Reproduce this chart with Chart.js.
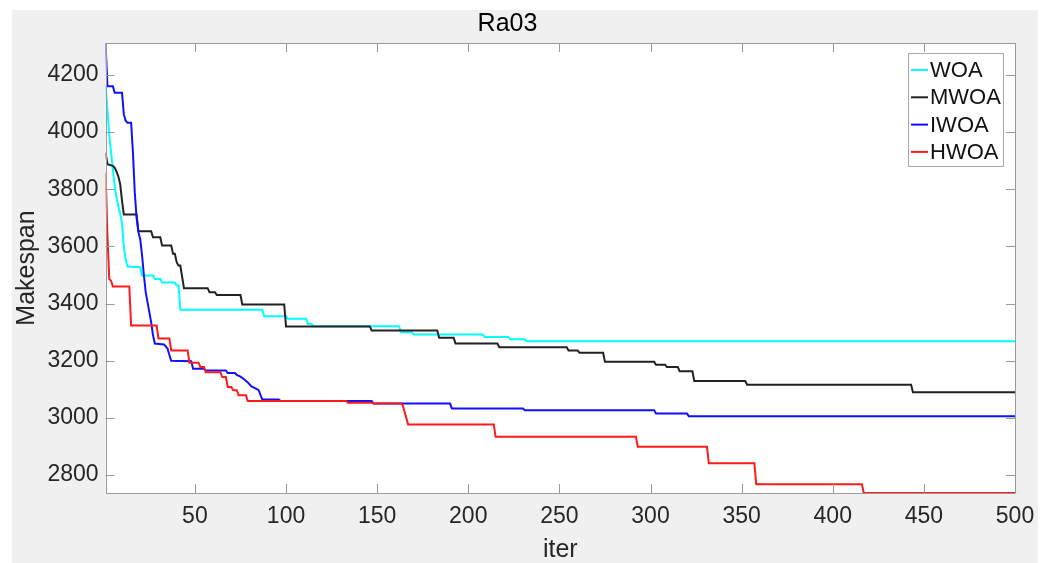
<!DOCTYPE html>
<html>
<head>
<meta charset="utf-8">
<script src="https://cdn.jsdelivr.net/npm/chart.js@4.4.1/dist/chart.umd.min.js"></script>
<style>
  html, body { margin: 0; padding: 0; background: #ffffff; }
  #wrap { width: 1053px; height: 563px; }
</style>
</head>
<body>
<div id="wrap"><canvas id="c" width="1053" height="563"></canvas></div>
<script>
// ---- data (iteration, makespan) ----
const seriesNames = ['WOA', 'MWOA', 'IWOA', 'HWOA'];

const woaIter = [1,2,3,4,5,6,7,8,9,10,11,12,13,20,21,27,28,31,32,39,40,41,42,87,88,100,101,111,112,114,115,162,163,169,170,208,209,222,223,231,232,500];
const woaVal  = [4165,4080,3990,3930,3870,3810,3770,3740,3715,3680,3600,3555,3530,3527,3498,3498,3486,3486,3474,3474,3463,3463,3378,3378,3356,3356,3347,3347,3329,3329,3321,3321,3300,3300,3292,3292,3283,3283,3275,3275,3268,3268];

const mwoaIter = [1,2,5,6,7,8,9,10,11,18,19,26,27,31,32,37,38,39,40,41,42,44,57,58,61,62,75,76,99,100,146,147,183,184,192,193,216,217,254,255,260,261,274,275,302,303,308,309,315,316,323,324,352,353,443,444,500];
const mwoaVal  = [3928,3888,3882,3875,3862,3845,3818,3760,3712,3712,3653,3653,3632,3632,3603,3603,3574,3574,3545,3533,3533,3454,3454,3440,3440,3430,3430,3397,3397,3320,3320,3306,3306,3280,3280,3260,3260,3247,3247,3236,3236,3228,3228,3196,3196,3186,3186,3178,3178,3163,3163,3129,3129,3116,3116,3090,3090];

const iwoaIter = [1,2,5,6,10,11,12,13,15,16,17,18,19,20,21,22,23,24,25,26,27,28,33,34,35,36,37,48,49,55,56,67,68,72,73,75,77,79,81,83,85,86,87,96,97,147,148,190,191,230,231,302,303,320,321,500];
const iwoaVal  = [4312,4161,4161,4138,4138,4062,4040,4033,4033,3930,3790,3700,3650,3625,3570,3500,3440,3405,3370,3335,3290,3260,3257,3250,3242,3220,3200,3198,3172,3172,3166,3166,3157,3157,3150,3144,3135,3124,3110,3104,3097,3080,3064,3064,3059,3059,3050,3050,3033,3033,3027,3027,3015,3015,3006,3006];

const hwoaIter = [1,2,3,4,5,14,15,29,30,36,37,46,47,52,53,55,56,64,65,67,68,70,71,73,74,78,79,133,134,147,148,163,164,166,167,214,215,292,293,331,332,357,358,416,417,500];
const hwoaVal  = [3859,3640,3486,3480,3460,3460,3323,3323,3278,3278,3236,3236,3193,3193,3178,3178,3160,3160,3143,3143,3108,3108,3097,3097,3079,3079,3059,3059,3053,3053,3050,3050,3045,3000,2977,2977,2934,2934,2899,2899,2841,2841,2768,2768,2737,2737];

const xTicks = [50,100,150,200,250,300,350,400,450,500];
const yTicks = [2800,3000,3200,3400,3600,3800,4000,4200];
const xRange = [1, 500];
const yRange = [2737, 4312];

const chartTitle = 'Ra03';
const xTitle = 'iter';
const yTitle = 'Makespan';

// ---- build ----
const FONT = '"Liberation Sans", Arial, Helvetica, sans-serif';
Chart.defaults.font.family = FONT;

function pts(xs, ys) { return xs.map((x, k) => ({ x: x, y: ys[k] })); }

const colors = ['#00ffff', '#222222', '#1010ff', '#ff1a1a'];
const allIter = [woaIter, mwoaIter, iwoaIter, hwoaIter];
const allVal = [woaVal, mwoaVal, iwoaVal, hwoaVal];

const datasets = seriesNames.map((name, k) => ({
  label: name,
  data: pts(allIter[k], allVal[k]),
  borderColor: colors[k],
  backgroundColor: colors[k],
  borderWidth: 2,
  pointRadius: 0,
  tension: 0,
  fill: false,
  order: 4 - k
}));

const AXIS_COLOR = '#9a9a9a';
const TICK_LEN = 9;

const decor = {
  id: 'decor',
  beforeDraw(chart) {
    const ctx = chart.ctx;
    const a = chart.chartArea;
    ctx.save();
    ctx.fillStyle = '#ffffff';
    ctx.fillRect(0, 0, chart.width, chart.height);
    ctx.fillStyle = '#f0f0f0';
    ctx.fillRect(12, 10, 1038 - 12, chart.height - 10);
    ctx.fillStyle = '#ffffff';
    ctx.fillRect(a.left, a.top, a.right - a.left, a.bottom - a.top);
    ctx.restore();
  },
  afterDraw(chart) {
    const ctx = chart.ctx;
    const a = chart.chartArea;
    const xs = chart.scales.x, ys = chart.scales.y;
    ctx.save();
    ctx.strokeStyle = AXIS_COLOR;
    ctx.lineWidth = 1;
    ctx.beginPath();
    ctx.rect(Math.round(a.left) + 0.5, Math.round(a.top) + 0.5,
             Math.round(a.right - a.left), Math.round(a.bottom - a.top));
    ctx.stroke();
    ctx.beginPath();
    xTicks.forEach(v => {
      const px = Math.round(xs.getPixelForValue(v)) + 0.5;
      ctx.moveTo(px, a.bottom); ctx.lineTo(px, a.bottom - TICK_LEN);
      ctx.moveTo(px, a.top); ctx.lineTo(px, a.top + TICK_LEN);
    });
    yTicks.forEach(v => {
      const py = Math.round(ys.getPixelForValue(v)) + 0.5;
      ctx.moveTo(a.left, py); ctx.lineTo(a.left + TICK_LEN, py);
      ctx.moveTo(a.right, py); ctx.lineTo(a.right - TICK_LEN, py);
    });
    ctx.stroke();

    // legend
    const lx = 908, ly = 53, lw = 95, lh = 113;
    ctx.fillStyle = '#ffffff';
    ctx.fillRect(lx, ly, lw, lh);
    ctx.strokeStyle = '#a8a8a8';
    ctx.strokeRect(lx + 0.5, ly + 0.5, lw, lh);
    ctx.font = '22px ' + FONT;
    ctx.textBaseline = 'middle';
    ctx.textAlign = 'left';
    chart.data.datasets.forEach((ds, k) => {
      const cy = 70 + k * 27.3;
      ctx.strokeStyle = ds.borderColor;
      ctx.lineWidth = 2;
      ctx.beginPath();
      ctx.moveTo(911, cy); ctx.lineTo(928, cy);
      ctx.stroke();
      ctx.fillStyle = '#111111';
      ctx.fillText(ds.label, 930, cy + 1);
    });
    ctx.restore();
  }
};

new Chart(document.getElementById('c'), {
  type: 'line',
  data: { datasets: datasets },
  plugins: [decor],
  options: {
    responsive: false,
    devicePixelRatio: 1,
    animation: false,
    parsing: true,
    layout: { padding: { left: 0, right: 38, top: 0, bottom: 0 } },
    plugins: {
      legend: { display: false },
      tooltip: { enabled: false },
      title: {
        display: true,
        text: chartTitle,
        color: '#000000',
        font: { size: 25, weight: 'normal', family: FONT },
        padding: { top: 9, bottom: 4 }
      }
    },
    scales: {
      x: {
        type: 'linear',
        min: xRange[0],
        max: xRange[1],
        grid: { display: false, drawTicks: false },
        border: { display: false },
        afterBuildTicks(s) { s.ticks = xTicks.map(v => ({ value: v })); },
        afterFit(s) { s.height = 70; },
        ticks: {
          color: '#262626',
          font: { size: 23, family: FONT },
          padding: 10,
          maxRotation: 0,
          autoSkip: false,
          callback: v => String(v)
        },
        title: {
          display: true,
          text: xTitle,
          color: '#262626',
          font: { size: 25, family: FONT, lineHeight: 1 },
          padding: { top: 0, bottom: 0 }
        }
      },
      y: {
        type: 'linear',
        min: yRange[0],
        max: yRange[1],
        grid: { display: false, drawTicks: false },
        border: { display: false },
        afterBuildTicks(s) { s.ticks = yTicks.map(v => ({ value: v })); },
        afterFit(s) { s.width = 105.6; },
        ticks: {
          color: '#262626',
          font: { size: 23, family: FONT },
          padding: 7,
          autoSkip: false,
          callback: v => String(v)
        },
        title: {
          display: true,
          text: yTitle,
          color: '#262626',
          font: { size: 25, family: FONT, lineHeight: 1 },
          padding: { top: 14.5, bottom: 0 }
        }
      }
    }
  }
});
</script>
</body>
</html>
